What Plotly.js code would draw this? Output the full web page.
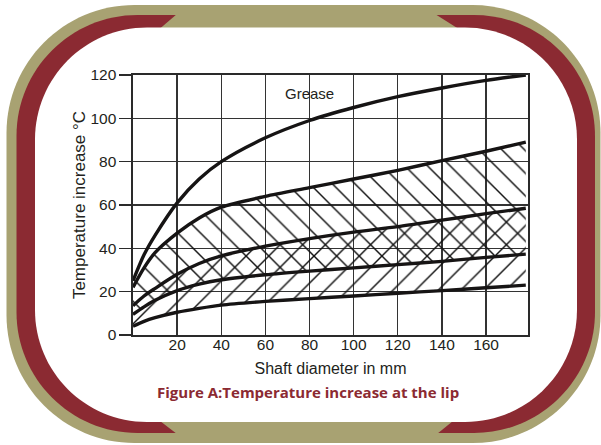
<!DOCTYPE html>
<html>
<head>
<meta charset="utf-8">
<script src="https://cdn.plot.ly/plotly-3.0.1.min.js"></script>
<style>
  html, body { margin: 0; padding: 0; background: #ffffff; }
  #chart { width: 601px; height: 445px; }
</style>
</head>
<body>
<div id="chart"></div>
<script>
// ---- Data ----
var shaftDiameter = [0, 5, 10, 20, 30, 40, 60, 80, 100, 120, 140, 160, 178];
var greaseCurve   = [25, 37, 46, 61, 72, 80, 91, 99, 105, 110, 114, 117.5, 120];
var bandAUpper    = [22, 31, 38, 47, 54, 59, 64, 68, 72, 76, 80.5, 84.8, 89];
var bandBUpper    = [13.5, 18, 21.5, 28, 33, 36.5, 41, 44.5, 47.5, 50, 53, 56, 58.5];
var bandALower    = [9.5, 13, 16, 20.5, 23.5, 25.5, 27.8, 29.5, 31, 32.5, 34, 35.8, 37.3];
var bandBLower    = [4, 6.3, 8, 10.5, 12.3, 13.8, 15.5, 16.8, 18, 19.3, 20.5, 21.8, 23];
var xTickVals     = [20, 40, 60, 80, 100, 120, 140, 160];
var yTickVals     = [0, 20, 40, 60, 80, 100, 120];

var INK = '#231f20';
var KHAKI = '#a8a272';
var WINE = '#8b2a32';

// ---- Geometry helpers for the decorative frame (pixel -> paper) ----
var W = 601, H = 445;
var M = {l: 133, r: 73, t: 75, b: 110};
var PW = W - M.l - M.r, PH = H - M.t - M.b;
function X(px) { return (px - M.l) / PW; }
function Y(py) { return (H - M.b - py) / PH; }
function P(px, py) { return X(px).toFixed(5) + ',' + Y(py).toFixed(5); }
function rrect(x0, y0, x1, y1, r) {
  var k = 0.5523 * r;
  return 'M' + P(x0 + r, y0) +
    ' L' + P(x1 - r, y0) +
    ' C' + P(x1 - r + k, y0) + ' ' + P(x1, y0 + r - k) + ' ' + P(x1, y0 + r) +
    ' L' + P(x1, y1 - r) +
    ' C' + P(x1, y1 - r + k) + ' ' + P(x1 - r + k, y1) + ' ' + P(x1 - r, y1) +
    ' L' + P(x0 + r, y1) +
    ' C' + P(x0 + r - k, y1) + ' ' + P(x0, y1 - r + k) + ' ' + P(x0, y1 - r) +
    ' L' + P(x0, y0 + r) +
    ' C' + P(x0, y0 + r - k) + ' ' + P(x0 + r - k, y0) + ' ' + P(x0 + r, y0) + ' Z';
}
function poly(pts) {
  return 'M' + pts.map(function (p) { return P(p[0], p[1]); }).join(' L') + ' Z';
}
function shp(path, color) {
  return {type: 'path', xref: 'paper', yref: 'paper', path: path,
          fillcolor: color, line: {width: 0}, layer: 'below'};
}

var shapes = [
  shp(rrect(6.5, 5, 600.5, 443, 128), KHAKI),
  shp(rrect(16.5, 15, 595, 433, 121), WINE),
  shp(poly([[177, 14], [435, 14], [458, 28.5], [160, 28.5]]), KHAKI),
  shp(poly([[160, 421], [453, 421], [437, 434], [177, 434]]), KHAKI),
  shp(rrect(35, 27.5, 577, 422, 112), '#ffffff')
];

// ---- Traces ----
function bandTrace(y, fill, pattern) {
  var t = {x: shaftDiameter, y: y, type: 'scatter', mode: 'lines',
           line: {width: 0, shape: 'spline', smoothing: 0.8, color: 'rgba(0,0,0,0)'},
           hoverinfo: 'skip', showlegend: false};
  if (fill) {
    t.fill = 'tonexty';
    t.fillcolor = 'rgba(0,0,0,0)';
    t.fillpattern = {shape: pattern, fgcolor: '#111111', bgcolor: 'rgba(0,0,0,0)',
                     size: 16, solidity: 0.09, fillmode: 'replace'};
  }
  return t;
}
function curveTrace(y, name) {
  return {x: shaftDiameter, y: y, type: 'scatter', mode: 'lines', name: name,
          line: {width: 3.4, color: '#161414', shape: 'spline', smoothing: 0.8},
          showlegend: false};
}

var data = [
  bandTrace(bandALower, false),
  bandTrace(bandAUpper, true, '\\'),
  bandTrace(bandBLower, false),
  bandTrace(bandBUpper, true, '/'),
  curveTrace(greaseCurve, 'Grease'),
  curveTrace(bandAUpper, 'Band A upper'),
  curveTrace(bandBUpper, 'Band B upper'),
  curveTrace(bandALower, 'Band A lower'),
  curveTrace(bandBLower, 'Band B lower')
];

var FONT = 'Liberation Sans, Arial, Helvetica, sans-serif';

var layout = {
  width: W, height: H,
  margin: M,
  paper_bgcolor: '#ffffff',
  plot_bgcolor: 'rgba(0,0,0,0)',
  font: {family: FONT, color: INK, size: 15},
  showlegend: false,
  xaxis: {
    range: [0, 179], tickvals: xTickVals, ticktext: xTickVals.map(String),
    showgrid: true, gridcolor: '#333333', gridwidth: 1.4,
    showline: true, mirror: true, linecolor: '#2a2a2a', linewidth: 1.6,
    zeroline: false, ticks: '', ticklabelstandoff: -5,
    tickfont: {family: FONT, size: 15.5, color: INK},
    title: {text: 'Shaft diameter in mm', font: {family: FONT, size: 16, color: INK}, standoff: 10},
    fixedrange: true
  },
  yaxis: {
    range: [0, 120], tickvals: yTickVals, ticktext: yTickVals.map(String),
    showgrid: true, gridcolor: '#333333', gridwidth: 1.4,
    showline: true, mirror: true, linecolor: '#2a2a2a', linewidth: 1.6,
    zeroline: false, ticks: 'outside', ticklen: 12, tickwidth: 1.5, tickcolor: '#2a2a2a',
    tickfont: {family: FONT, size: 15.5, color: INK},
    title: {text: 'Temperature increase °C', font: {family: FONT, size: 17, color: INK}, standoff: 0},
    fixedrange: true
  },
  shapes: shapes,
  annotations: [
    {x: 80, y: 111.5, xref: 'x', yref: 'y', text: 'Grease', showarrow: false,
     font: {family: FONT, size: 15, color: INK}},
    {x: X(308), y: Y(392), xref: 'paper', yref: 'paper', xanchor: 'center', yanchor: 'middle',
     text: '<b>Figure A:Temperature increase at the lip</b>',
     showarrow: false, font: {family: 'Open Sans, Lato, sans-serif', size: 15, color: WINE}}
  ]
};

Plotly.newPlot('chart', data, layout, {displayModeBar: false, staticPlot: true});
</script>
</body>
</html>
